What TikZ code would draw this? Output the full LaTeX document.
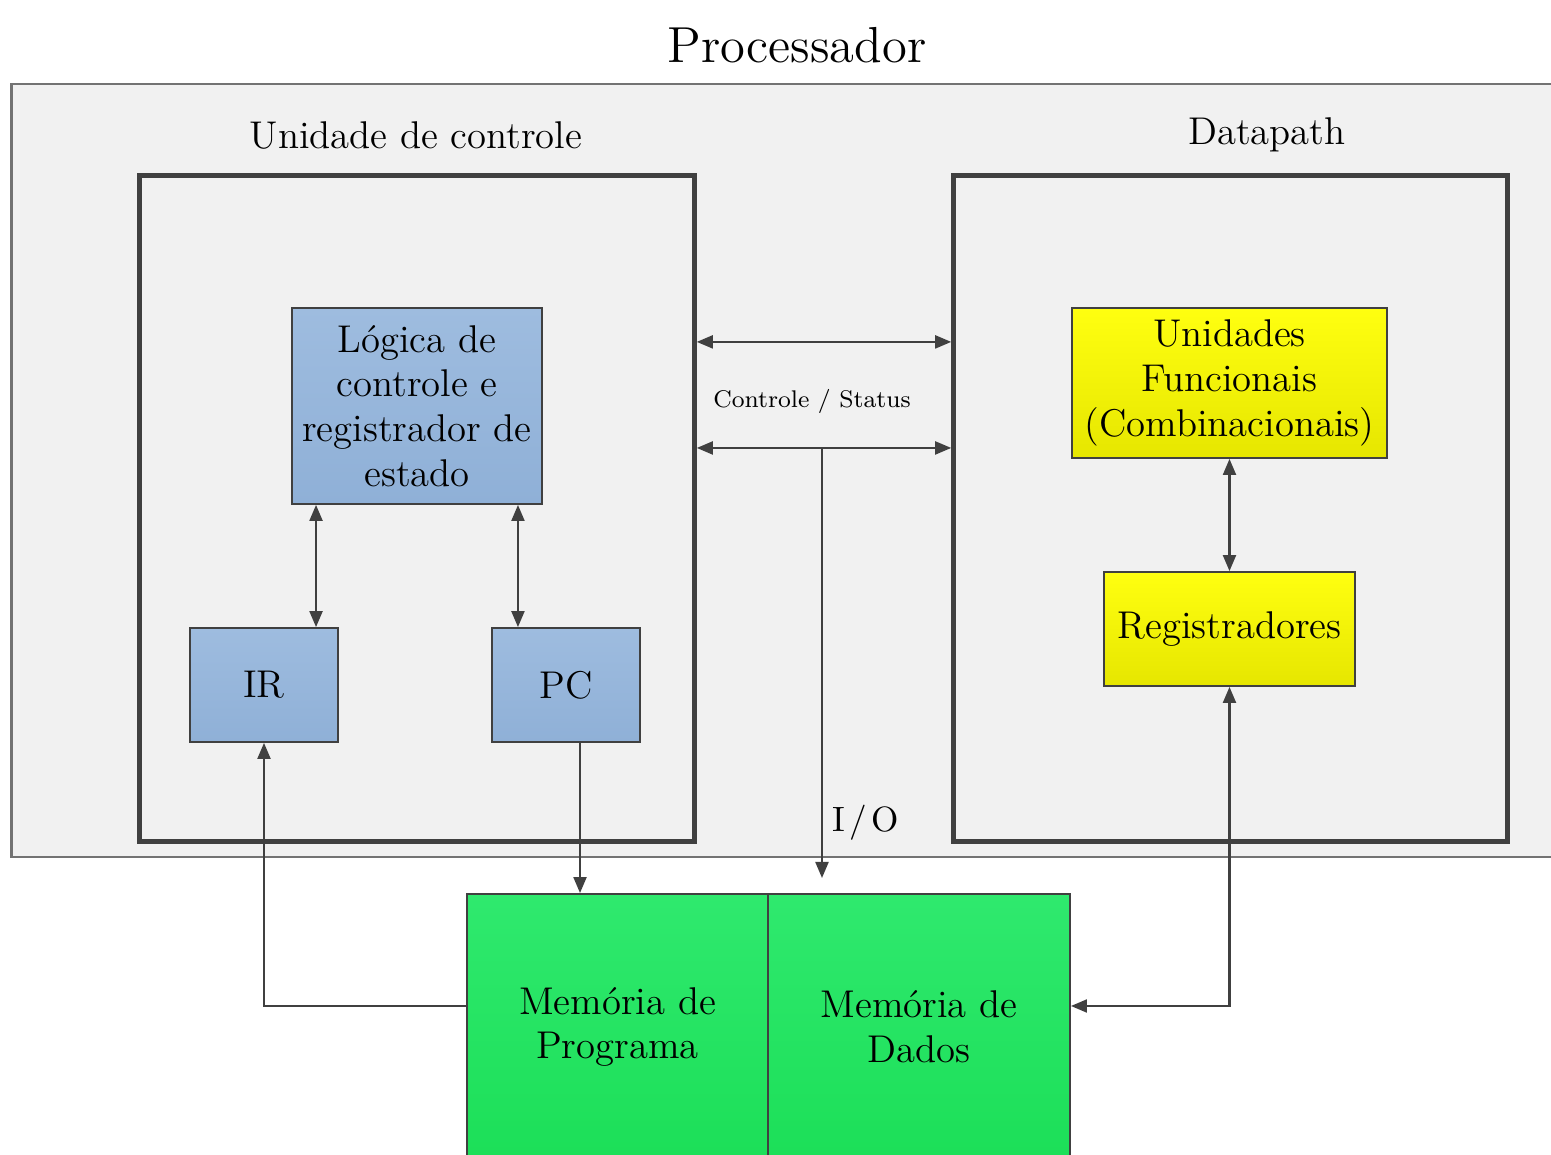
\documentclass[tikz,border=0pt]{standalone}
\usetikzlibrary{arrows.meta}

\definecolor{fundo}{HTML}{F1F1F1}
\definecolor{borda}{HTML}{404040}
\definecolor{azulA}{HTML}{9EBCDF}
\definecolor{azulB}{HTML}{8FB0D7}
\definecolor{amarA}{HTML}{FFFF10}
\definecolor{amarB}{HTML}{E6E600}
\definecolor{verdeA}{HTML}{2FE96E}
\definecolor{verdeB}{HTML}{1CDF58}

\tikzset{
  caixa/.style={draw=borda, line width=0.5pt, align=center, inner sep=0pt,
    font=\fontsize{11}{12.7}\selectfont},
  azul/.style={caixa, top color=azulA, bottom color=azulB},
  amarelo/.style={caixa, top color=amarA, bottom color=amarB},
  verde/.style={caixa, top color=verdeA, bottom color=verdeB},
  moldura/.style={draw=borda, line width=1.5pt, fill=fundo, inner sep=0pt},
  rotulo/.style={font=\fontsize{11}{13}\selectfont},
  ponta/.tip={Triangle[length=1.6mm,width=1.3mm]},
  seta/.style={draw=borda, line width=0.6pt, -ponta},
  dupla/.style={draw=borda, line width=0.6pt, ponta-ponta},
}

\begin{document}
\begin{tikzpicture}[x=0.01cm, y=-0.01cm]
  \useasboundingbox (0,0) rectangle (1551,1155);
  \clip (0,0) rectangle (1551,1155);

  % processador
  \node[draw=black!55, line width=0.6pt, fill=fundo, inner sep=0pt,
        minimum width=15.48cm, minimum height=7.73cm] (proc) at (786,470.5) {};
  \node[font=\fontsize{14.4}{17}\selectfont] (titulo) at (797,45) {Processador};

  % unidade de controle e datapath
  \node[moldura, minimum width=5.54cm, minimum height=6.65cm] (uc) at (417,508.5) {};
  \node[moldura, minimum width=5.53cm, minimum height=6.65cm] (dp) at (1230.5,508.5) {};
  \node[rotulo] (ucnome) at (416,135) {Unidade de controle};
  \node[rotulo] (dpnome) at (1267,135) {Datapath};

  % blocos
  \node[azul, minimum width=2.5cm, minimum height=1.96cm] (logica) at (417,406)
    {L\'ogica de\\controle e\\registrador de\\estado};
  \node[azul, minimum width=1.48cm, minimum height=1.14cm] (ir) at (264,685) {IR};
  \node[azul, minimum width=1.48cm, minimum height=1.14cm] (pc) at (566,685) {PC};
  \node[amarelo, minimum width=3.15cm, minimum height=1.5cm] (ufunc) at (1229.5,383)
    {Unidades\\Funcionais\\(Combinacionais)};
  \node[amarelo, minimum width=2.51cm, minimum height=1.14cm] (regs) at (1229.5,629)
    {Registradores};
  \node[verde, minimum width=3.01cm, minimum height=2.66cm] (memprog) at (617.5,1027)
    {Mem\'oria de\\Programa};
  \node[verde, minimum width=3.02cm, minimum height=2.66cm] (memdados) at (919,1027)
    {Mem\'oria de\\Dados};

  % ligacoes internas
  \draw[dupla] ([xshift=5.2mm]ir.north) -- ([xshift=5.2mm]ir.north |- logica.south);
  \draw[dupla] ([xshift=-4.8mm]pc.north) -- ([xshift=-4.8mm]pc.north |- logica.south);
  \draw[dupla] (ufunc.south) -- (regs.north);

  % controle / status
  \coordinate (cs1) at ([yshift=16.65mm]uc.east);
  \coordinate (cs2) at ([yshift=6.05mm]uc.east);
  \coordinate (io) at (822,878);
  \draw[dupla] (cs1) -- (cs1 -| dp.west);
  \draw[dupla] (cs2) -- (cs2 -| dp.west);
  \node[font=\fontsize{7.8}{9}\selectfont] (csnome) at (812,401)
    {\scalebox{0.88}{Controle / Status}};
  \draw[seta] (cs2 -| io) -- (io);
  \node[font=\fontsize{10}{12}\selectfont] (ionome) at (866,823)
    {\spaceskip=0.12em I / O};

  % memorias
  \draw[seta] ([xshift=1.4mm]pc.south) -- ([xshift=1.4mm]pc.south |- memprog.north);
  \draw[seta] ([yshift=2.1mm]memprog.west) -| (ir.south);
  \draw[dupla] (regs.south) |- ([yshift=2.1mm]memdados.east);
\end{tikzpicture}
\end{document}
